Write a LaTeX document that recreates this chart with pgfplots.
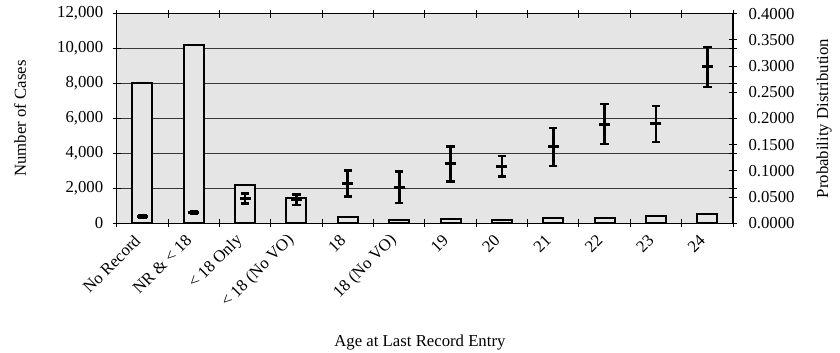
\documentclass[border=0pt]{standalone}
\usepackage{fontspec}
\setmainfont{Liberation Serif}
\usepackage{pgfplots}
\pgfplotsset{compat=1.18}
\usepackage{pgfplotstable}

\pgfplotstableread{
x n
0 8020
1 10230
2 2170
3 1470
4 370
5 180
6 270
7 180
8 290
9 330
10 440
11 520
}\casestable

\pgfplotstableread{
x y ep em
0 0.0133 0.0020 0.0020
1 0.0210 0.0020 0.0020
2 0.0476 0.0094 0.0096
3 0.0460 0.0090 0.0110
4 0.0760 0.0250 0.0250
5 0.0690 0.0300 0.0300
6 0.1140 0.0330 0.0340
7 0.1080 0.0200 0.0190
8 0.1460 0.0360 0.0370
9 0.1890 0.0390 0.0380
10 0.1910 0.0330 0.0360
11 0.3000 0.0360 0.0400
}\probtable

\begin{document}
\begin{tikzpicture}[font=\fontsize{16.8}{19}\selectfont]
\useasboundingbox (0,0) rectangle (840bp,353bp);
\begin{axis}[
  at={(116.7bp,129.7bp)}, anchor=south west,
  scale only axis, width=616.3bp, height=209.6bp,
  xmin=-0.5, xmax=11.5, ymin=0, ymax=12000,
  ytick={0,2000,4000,6000,8000,10000,12000},
  scaled y ticks=false,
  ymajorgrids, grid style={black!78, line width=0.9bp},
  axis background/.style={fill=black!10},
  axis line style={line width=1.2bp},
  tick style={black, line width=1bp},
  tick align=center, major tick length=8bp,
  xtick={-0.5,0.5,...,11.5},
  x tick label as interval,
  xticklabels={No Record, NR \& < 18, < 18 Only, < 18 (No VO), 18, 18 (No VO), 19, 20, 21, 22, 23, 24},
  xticklabel style={rotate=45, anchor=east, inner sep=2bp, xshift=-9bp, yshift=-4bp},
  /pgf/number format/assume math mode=true,
  yticklabel style={/pgf/number format/1000 sep={,}, xshift=-6bp},
  ylabel={Number of Cases},
  ylabel style={at={(axis description cs:-0.157,0.5)}, anchor=center},
  xlabel={Age at Last Record Entry},
  xlabel style={at={(axis description cs:0.492,-0.571)}, anchor=center},
]
\addplot[ybar, bar width=20bp, draw=black, line width=2bp, fill=black!10] table[x=x, y=n]{\casestable};
\end{axis}
\begin{axis}[
  at={(116.7bp,129.7bp)}, anchor=south west,
  scale only axis, width=616.3bp, height=209.6bp,
  xmin=-0.5, xmax=11.5, ymin=0, ymax=0.4,
  axis x line=none, axis y line*=right,
  axis line style={line width=1.2bp, -},
  tick style={black, line width=1bp},
  tick align=center, major tick length=8bp,
  ytick={0,0.05,0.1,0.15,0.2,0.25,0.3,0.35,0.4},
  /pgf/number format/assume math mode=true,
  yticklabel style={/pgf/number format/.cd, fixed, fixed zerofill, precision=4, /tikz/.cd, xshift=8bp},
  ylabel={Probability Distribution},
  ylabel style={at={(axis description cs:1.1477,0.5)}, anchor=center},
]
\addplot[black, only marks, mark=-, mark size=5.5bp, line width=3bp,
  error bars/.cd, y dir=both, y explicit,
  error bar style={line width=2.7bp},
  error mark options={line width=2.5bp, mark size=4.2bp, rotate=90}]
  table[x=x, y=y, y error plus=ep, y error minus=em]{\probtable};
\end{axis}
\end{tikzpicture}
\end{document}
